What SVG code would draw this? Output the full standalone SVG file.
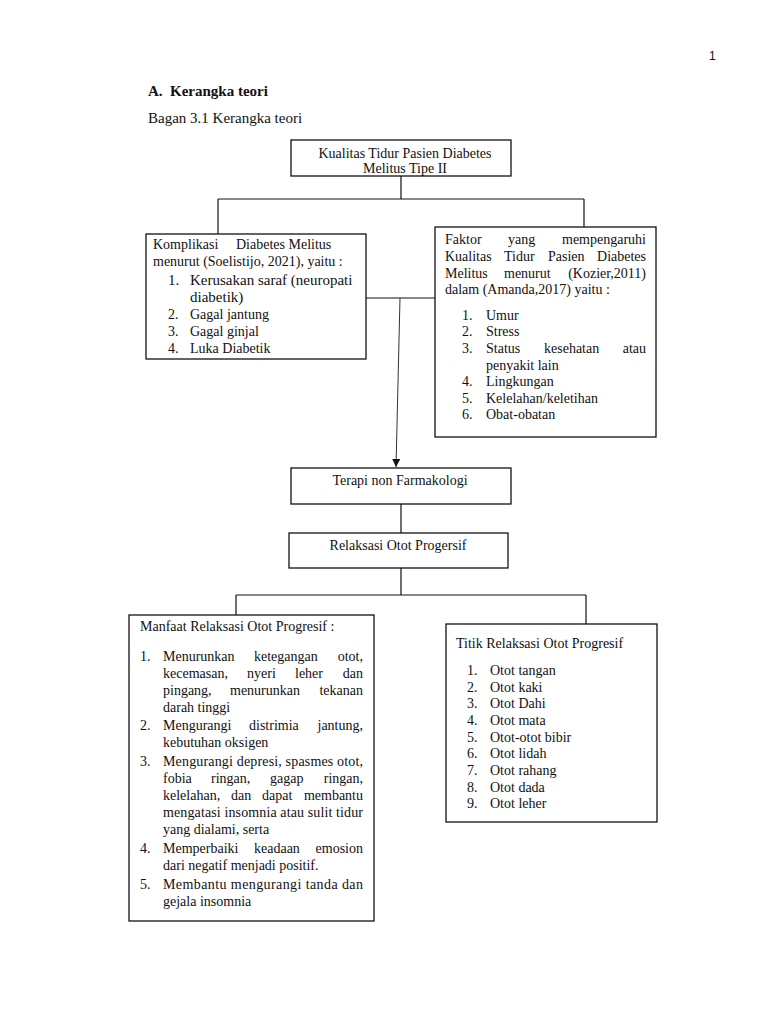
<svg xmlns="http://www.w3.org/2000/svg" width="768" height="1024" viewBox="0 0 768 1024">
<style>
  text { font-family: "Liberation Serif", "Times New Roman", serif; font-size: 14px; fill: #111; }
  .big { font-size: 15px; }
  .hdr { font-size: 15px; font-weight: bold; }
  .pg { font-family: "Liberation Sans", Arial, sans-serif; font-size: 12px; }
  .box { fill: #fff; stroke: #111; stroke-width: 1.3; }
  .con { fill: none; stroke: #111; stroke-width: 1.2; }
  .mid { text-anchor: middle; }
  .end { text-anchor: end; }
</style>
<defs>
  <marker id="arr" viewBox="0 0 10 10" refX="10" refY="5" markerWidth="8" markerHeight="8" markerUnits="userSpaceOnUse" orient="auto">
    <path d="M0,0 L10,5 L0,10 Z" fill="#111"/>
  </marker>
</defs>
<rect x="0" y="0" width="768" height="1024" fill="#fff"/>

<g id="header">
  <text class="pg" x="709" y="60">1</text>
  <text class="hdr" x="148" y="96">A.</text>
  <text class="hdr" x="170" y="96">Kerangka teori</text>
  <text class="big" x="148" y="123">Bagan 3.1 Kerangka teori</text>
</g>

<g id="connectors">
  <path class="con" d="M401,176 V199 M218,199 H584 M218,199 V234 M584,199 V227"/>
  <path class="con" d="M366,298 H435"/>
  <line x1="400" y1="298" x2="396" y2="467" stroke="#333" stroke-width="1" marker-end="url(#arr)"/>
  <path class="con" d="M401,504 V533"/>
  <path class="con" d="M401,568 V595 M236,595 H586 M236,595 V615 M586,595 V624"/>
</g>

<g id="node-kualitas">
  <rect class="box" x="291" y="140" width="220" height="36"/>
  <text class="mid" x="405" y="158">Kualitas Tidur Pasien Diabetes</text>
  <text class="mid" x="405" y="173">Melitus Tipe II</text>
</g>

<g id="node-komplikasi">
  <rect class="box" x="146" y="234" width="220" height="125"/>
  <text x="153" y="249">Komplikasi</text>
  <text x="236" y="249">Diabetes Melitus</text>
  <text x="153" y="266">menurut (Soelistijo, 2021), yaitu :</text>
  <text class="big" x="168" y="285">1.</text>
  <text class="big" x="190" y="285">Kerusakan saraf (neuropati</text>
  <text class="big" x="190" y="302">diabetik)</text>
  <text x="168" y="319">2.</text>
  <text x="190" y="319">Gagal jantung</text>
  <text x="168" y="336">3.</text>
  <text x="190" y="336">Gagal ginjal</text>
  <text x="168" y="353">4.</text>
  <text x="190" y="353">Luka Diabetik</text>
</g>

<g id="node-faktor">
  <rect class="box" x="435" y="227" width="221" height="210"/>
  <text x="445" y="244">Faktor</text>
  <text x="508" y="244">yang</text>
  <text class="end" x="646" y="244">mempengaruhi</text>
  <text x="445" y="261">Kualitas</text>
  <text x="504" y="261">Tidur</text>
  <text x="548" y="261">Pasien</text>
  <text class="end" x="646" y="261">Diabetes</text>
  <text x="445" y="278">Melitus</text>
  <text x="504" y="278">menurut</text>
  <text class="end" x="646" y="278">(Kozier,2011)</text>
  <text x="445" y="294">dalam (Amanda,2017) yaitu :</text>
  <text x="462" y="320">1.</text>
  <text x="486" y="320">Umur</text>
  <text x="462" y="336">2.</text>
  <text x="486" y="336">Stress</text>
  <text x="462" y="353">3.</text>
  <text x="486" y="353">Status</text>
  <text x="544" y="353">kesehatan</text>
  <text class="end" x="646" y="353">atau</text>
  <text x="486" y="370">penyakit lain</text>
  <text x="462" y="386">4.</text>
  <text x="486" y="386">Lingkungan</text>
  <text x="462" y="403">5.</text>
  <text x="486" y="403">Kelelahan/keletihan</text>
  <text x="462" y="419">6.</text>
  <text x="486" y="419">Obat-obatan</text>
</g>

<g id="node-terapi">
  <rect class="box" x="291" y="468" width="220" height="36"/>
  <text class="mid" x="400" y="485">Terapi non Farmakologi</text>
</g>

<g id="node-relaksasi">
  <rect class="box" x="289" y="533" width="219" height="35"/>
  <text class="mid" x="398" y="550">Relaksasi Otot Progersif</text>
</g>

<g id="node-manfaat">
  <rect class="box" x="129" y="615" width="245" height="306"/>
  <text x="140" y="631">Manfaat Relaksasi Otot Progresif :</text>
  <text x="140" y="661">1.</text>
  <text x="163" y="661">Menurunkan</text>
  <text x="254" y="661">ketegangan</text>
  <text class="end" x="363" y="661">otot,</text>
  <text x="163" y="678">kecemasan,</text>
  <text x="247" y="678">nyeri</text>
  <text x="295" y="678">leher</text>
  <text class="end" x="363" y="678">dan</text>
  <text x="163" y="695">pingang,</text>
  <text x="230" y="695">menurunkan</text>
  <text class="end" x="363" y="695">tekanan</text>
  <text x="163" y="712">darah tinggi</text>
  <text x="140" y="730">2.</text>
  <text x="163" y="730">Mengurangi</text>
  <text x="249" y="730">distrimia</text>
  <text class="end" x="363" y="730">jantung,</text>
  <text x="163" y="747">kebutuhan oksigen</text>
  <text x="140" y="766">3.</text>
  <text x="163" y="766" textLength="200" lengthAdjust="spacing">Mengurangi depresi, spasmes otot,</text>
  <text x="163" y="783">fobia</text>
  <text x="211" y="783">ringan,</text>
  <text x="270" y="783">gagap</text>
  <text class="end" x="363" y="783">ringan,</text>
  <text x="163" y="800">kelelahan,</text>
  <text x="231" y="800">dan</text>
  <text x="262" y="800">dapat</text>
  <text class="end" x="363" y="800">membantu</text>
  <text x="163" y="817" textLength="200" lengthAdjust="spacing">mengatasi insomnia atau sulit tidur</text>
  <text x="163" y="834">yang dialami, serta</text>
  <text x="140" y="853">4.</text>
  <text x="163" y="853">Memperbaiki</text>
  <text x="254" y="853">keadaan</text>
  <text class="end" x="363" y="853">emosion</text>
  <text x="163" y="870">dari negatif menjadi positif.</text>
  <text x="140" y="889">5.</text>
  <text x="163" y="889" textLength="200" lengthAdjust="spacing">Membantu mengurangi tanda dan</text>
  <text x="163" y="906">gejala insomnia</text>
</g>

<g id="node-titik">
  <rect class="box" x="446" y="624" width="211" height="198"/>
  <text x="456" y="648">Titik Relaksasi Otot Progresif</text>
  <text x="467" y="675">1.</text>
  <text x="490" y="675">Otot tangan</text>
  <text x="467" y="692">2.</text>
  <text x="490" y="692">Otot kaki</text>
  <text x="467" y="708">3.</text>
  <text x="490" y="708">Otot Dahi</text>
  <text x="467" y="725">4.</text>
  <text x="490" y="725">Otot mata</text>
  <text x="467" y="742">5.</text>
  <text x="490" y="742">Otot-otot bibir</text>
  <text x="467" y="758">6.</text>
  <text x="490" y="758">Otot lidah</text>
  <text x="467" y="775">7.</text>
  <text x="490" y="775">Otot rahang</text>
  <text x="467" y="792">8.</text>
  <text x="490" y="792">Otot dada</text>
  <text x="467" y="808">9.</text>
  <text x="490" y="808">Otot leher</text>
</g>
</svg>
